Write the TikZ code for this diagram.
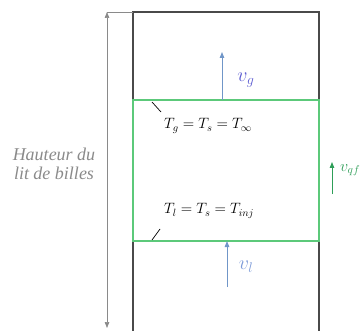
\documentclass[tikz,border=0pt]{standalone}
\usepackage{fontspec}
\setmainfont{Liberation Serif}
\usepackage{fix-cm}
\usetikzlibrary{arrows.meta}
\definecolor{boxgrey}{HTML}{4A4A4A}
\definecolor{dimgrey}{HTML}{8A8A8A}
\definecolor{lgreen}{HTML}{5CC97A}
\definecolor{dgreen}{HTML}{2E9E58}
\definecolor{arrblue}{HTML}{7096C8}
\definecolor{vgcol}{HTML}{5A5AD0}
\definecolor{vlcol}{HTML}{7C9AD8}
\begin{document}
\begin{tikzpicture}[x=1pt,y=-1pt,
  wall/.style={draw=boxgrey,line width=1.1pt},
  zone/.style={draw=lgreen,line width=1.2pt},
  flow/.style={-{Triangle[length=6pt,width=4.5pt]},line width=1pt},
  lbl/.style={font=\fontsize{15}{17}\selectfont,inner sep=0pt},
  vlbl/.style={font=\fontsize{20}{22}\selectfont,inner sep=0pt},
  lead/.style={draw=black,line width=0.7pt}]
\useasboundingbox (0,0) rectangle (361,331);
\clip (0,0) rectangle (361,331);
% coordinates
\coordinate (tl) at (133,12);
\coordinate (tr) at (319,12);
\coordinate (bl) at (133,340);
\coordinate (br) at (319,340);
\coordinate (gtl) at (133,100);
\coordinate (gbr) at (319,241);
% walls
\draw[wall] (bl) -- (tl) -- (tr) -- (br);
% green zone
\draw[zone] (gtl) rectangle (gbr);
% dimension arrow
\coordinate (dtop) at (107,12);
\coordinate (dbot) at (107,328);
\draw[dimgrey,line width=0.7pt] (dtop) -- (tl);
\draw[dimgrey,line width=0.7pt,{Triangle[length=6pt,width=4.5pt]}-{Triangle[length=6pt,width=4.5pt]}] (dtop) -- (dbot);
\node[inner sep=0pt,text=dimgrey,align=center,font=\fontsize{18}{19.5}\selectfont\itshape] (haut) at (54,164) {Hauteur du\\lit de billes};
% v_g
\coordinate (vgs) at (222,100);
\coordinate (vge) at (222,52);
\draw[flow,arrblue] (vgs) -- (vge);
\node[vlbl,text=vgcol] (vg) at (246,80) {$v_g$};
% v_l
\coordinate (vls) at (227,287);
\coordinate (vle) at (227,241);
\draw[flow,arrblue] (vls) -- (vle);
\node[vlbl,text=vlcol] (vl) at (246,267) {$v_l$};
% v_qf
\coordinate (vqs) at (332,194);
\coordinate (vqe) at (332,162);
\draw[flow,dgreen,line width=0.9pt] (vqs) -- (vqe);
\node[inner sep=0pt,font=\fontsize{16}{18}\selectfont,text=dgreen,anchor=east] (vq) at (360.5,170) {$v_{qf}$};
% temperatures
\node[lbl,anchor=west] (tg) at (164,126) {$T_g = T_s = T_\infty$};
\node[lbl,anchor=west] (tlab) at (164,211) {$T_l = T_s = T_{inj}$};
\coordinate (lg1) at (152,102);
\coordinate (lg2) at (161,112);
\draw[lead] (lg1) -- (lg2);
\coordinate (ll1) at (152,240);
\coordinate (ll2) at (160,229);
\draw[lead] (ll1) -- (ll2);
\end{tikzpicture}
\end{document}
